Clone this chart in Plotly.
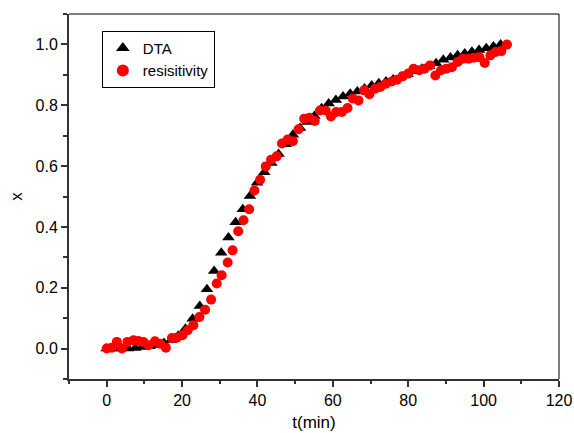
import plotly.graph_objects as go

# DTA data
dta_t = [0, 1.9, 3.8, 5.7, 7.6, 9.5, 11.4, 13.3, 15.2, 17.1, 19.0, 20.9, 22.8, 24.7,
         26.6, 28.5, 30.4, 32.3, 34.2, 36.1, 38.0, 39.9, 41.8, 43.7, 45.6, 47.5,
         49.4, 51.3, 53.2, 55.1, 57.0, 58.9, 60.8, 62.7, 64.6, 66.5, 68.4, 70.3,
         72.2, 74.1, 76.0, 77.9, 79.8, 81.7, 83.6, 85.5, 87.4, 89.3, 91.2, 93.1,
         95.0, 96.9, 98.8, 100.7, 102.6, 104.5]
dta_x = [0.0, 0.0, 0.0, 0.0, 0.002, 0.005, 0.008, 0.012, 0.018, 0.028, 0.042, 0.065,
         0.098, 0.140, 0.195, 0.255, 0.315, 0.365, 0.415, 0.458, 0.502, 0.545, 0.580,
         0.610, 0.640, 0.672, 0.703, 0.725, 0.745, 0.765, 0.790, 0.806, 0.817, 0.829,
         0.838, 0.845, 0.855, 0.865, 0.872, 0.878, 0.885, 0.893, 0.902, 0.912, 0.920,
         0.928, 0.938, 0.950, 0.957, 0.964, 0.970, 0.976, 0.982, 0.987, 0.993, 1.000]

# resistivity data
res_t = [0, 1.3, 2.7, 4.0, 5.5, 7.1, 8.4, 9.7, 11.1, 12.8, 14.2, 15.7, 17.3, 18.6,
         20.1, 21.5, 23.0, 24.6, 26.1, 27.7, 29.2, 30.5, 32.1, 33.4, 34.9, 36.3,
         37.8, 39.2, 40.7, 42.2, 43.6, 45.1, 46.5, 48.0, 49.4, 50.9, 52.4, 53.8,
         55.2, 56.6, 58.1, 59.5, 60.9, 62.4, 63.9, 65.3, 66.8, 68.3, 69.7, 71.2,
         72.6, 74.1, 75.6, 77.0, 78.5, 80.0, 81.4, 82.9, 84.3, 85.8, 87.2, 88.7,
         90.1, 91.6, 93.1, 94.5, 96.0, 97.4, 98.9, 100.3, 101.8, 103.2, 104.7, 106.2]
res_x = [0, 0.003, 0.022, 0.0, 0.022, 0.027, 0.025, 0.022, 0.011, 0.024, 0.016, 0.003,
         0.035, 0.036, 0.044, 0.06, 0.077, 0.104, 0.128, 0.161, 0.214, 0.241, 0.283,
         0.323, 0.386, 0.422, 0.458, 0.52, 0.555, 0.599, 0.621, 0.632, 0.674, 0.687,
         0.682, 0.721, 0.756, 0.759, 0.748, 0.783, 0.783, 0.763, 0.778, 0.778, 0.791,
         0.822, 0.816, 0.849, 0.836, 0.854, 0.86, 0.871, 0.878, 0.884, 0.895, 0.904,
         0.92, 0.915, 0.92, 0.931, 0.898, 0.915, 0.92, 0.925, 0.942, 0.953, 0.953,
         0.956, 0.958, 0.939, 0.964, 0.975, 0.978, 1.0]

FONT = "Arial, Liberation Sans, Helvetica, sans-serif"

fig = go.Figure()
fig.add_trace(go.Scatter(x=dta_t, y=dta_x, mode="markers", name="DTA",
                         marker=dict(symbol="triangle-up", size=11, color="black")))
fig.add_trace(go.Scatter(x=res_t, y=res_x, mode="markers", name="resisitivity",
                         marker=dict(symbol="circle", size=10, color="#ff0000")))

axis_common = dict(
    showgrid=False, zeroline=False, showline=True, linecolor="#333333", linewidth=2,
    ticks="outside", ticklen=6, tickwidth=1.5, tickcolor="#333333",
    tickfont=dict(family=FONT, size=16, color="black"),
    mirror=False, automargin=False,
)
fig.update_xaxes(range=[-10, 120], tick0=0, dtick=20,
                 minor=dict(dtick=10, ticks="outside", ticklen=3, tickcolor="#333333", tickwidth=1.5),
                 title=dict(text="t(min)", font=dict(family=FONT, size=17, color="black"), standoff=8),
                 **axis_common)
fig.update_yaxes(range=[-0.1, 1.1], tick0=0, dtick=0.2, tickformat=".1f",
                 minor=dict(dtick=0.1, ticks="outside", ticklen=4, tickcolor="#333333", tickwidth=1.5),
                 title=dict(text="x", font=dict(family=FONT, size=17, color="black"), standoff=9),
                 **axis_common)

# top and right frame lines
fig.add_shape(type="line", xref="paper", yref="paper", x0=0, x1=1, y0=1, y1=1,
              line=dict(color="black", width=1))
fig.add_shape(type="line", xref="paper", yref="paper", x0=1, x1=1, y0=0, y1=1,
              line=dict(color="black", width=1))

fig.update_layout(
    width=574, height=433,
    margin=dict(l=69, r=15, t=14, b=54),
    plot_bgcolor="white", paper_bgcolor="white",
    showlegend=True,
    legend=dict(x=0.067, y=0.954, xanchor="left", yanchor="top",
                bgcolor="white", bordercolor="black", borderwidth=1,
                font=dict(family=FONT, size=15, color="black"),
                tracegroupgap=0, itemsizing="constant"),
)

fig.write_html("out.html", config={"displayModeBar": False},
               post_script="document.body.style.margin='0';document.body.style.overflow='hidden';")
